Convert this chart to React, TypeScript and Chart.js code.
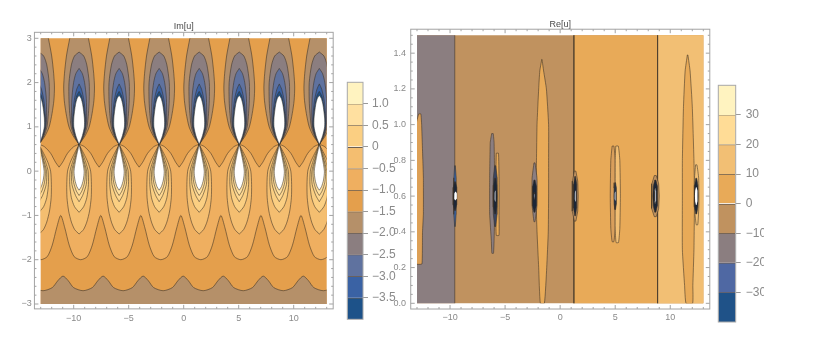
import React, { useEffect, useRef } from "react";
import { Chart, registerables } from "chart.js";

Chart.register(...registerables);

const FONT = "'Liberation Sans', Arial, sans-serif";

// ---- Im[u]: contour level values ----
const POLE_CENTRES = [-13.15, -9.51, -5.87, -2.23, 1.41, 5.05, 8.69, 12.33];
const WAVE_CENTRES = [-13.15, -9.51, -5.87, -2.23, 1.41, 5.05, 8.69, 12.33, 15.97];
// [y, half width] of each closed contour around a pole
const UP_M15 = [[3.2, 0.7], [3, 0.85], [2.6, 1.15], [2.2, 1.33], [1.9, 1.4], [1.6, 1.35], [1.3, 1.18], [1, 0.92], [0.8, 0.55], [0.6, 0]];
const UP_M20 = [[2.69, 0], [2.6, 0.42], [2.4, 0.7], [2, 0.92], [1.6, 0.92], [1.3, 0.85], [1, 0.72], [0.8, 0.45], [0.6, 0]];
const UP_M25 = [[2.32, 0], [2.2, 0.3], [2, 0.5], [1.7, 0.64], [1.4, 0.68], [1.1, 0.66], [0.8, 0.4], [0.6, 0]];
const UP_M30 = [[1.97, 0], [1.85, 0.22], [1.6, 0.44], [1.3, 0.56], [1, 0.6], [0.8, 0.36], [0.6, 0]];
const UP_M35 = [[1.8, 0], [1.7, 0.22], [1.5, 0.38], [1.2, 0.53], [1, 0.54], [0.8, 0.33], [0.6, 0]];
const UP_HOLE = [[1.71, 0], [1.65, 0.17], [1.5, 0.33], [1.2, 0.48], [1, 0.48], [0.8, 0.3], [0.6, 0]];
const LOW_M05 = [[0.6, 0], [0.4, 0.42], [0.2, 0.8], [0, 1.05], [-0.3, 1.12], [-0.6, 1.1], [-0.9, 0.95], [-1.15, 0.7], [-1.32, 0.4], [-1.42, 0]];
const LOW_0 = [[0.6, 0], [0.4, 0.32], [0.2, 0.6], [0, 0.82], [-0.3, 0.85], [-0.6, 0.7], [-0.8, 0.42], [-0.93, 0]];
const LOW_05 = [[0.6, 0], [0.3, 0.36], [0, 0.68], [-0.3, 0.65], [-0.55, 0.32], [-0.69, 0]];
const LOW_10 = [[0.6, 0], [0.3, 0.32], [0, 0.57], [-0.25, 0.5], [-0.45, 0.25], [-0.55, 0]];
const LOW_HOLE = [[0.6, 0], [0.3, 0.27], [0, 0.46], [-0.2, 0.38], [-0.35, 0.2], [-0.43, 0]];
// [offset from pole, y] of the contours that run across the plot
const VEE = [[-1.82, 0.09], [-1.5, 0.2], [-1.06, 0.4], [-0.5, 0.55], [0, 0.6], [0.5, 0.55], [1.06, 0.4], [1.5, 0.2], [1.82, 0.09]];
const WAVE_UPPER = [[-1.67, -1], [-1.3, -1.28], [-0.9, -1.67], [-0.45, -1.93], [0.15, -2], [0.75, -1.93], [1.2, -1.67], [1.6, -1.28]];
const WAVE_LOWER = [[-1.46, -2.37], [-1.0, -2.47], [-0.5, -2.63], [0.36, -2.7], [1.2, -2.63], [1.72, -2.47]];

// ---- Re[u] ----
const RE_BOUNDARY_GREY = -9.57;
const RE_BOUNDARY_ZERO = 1.25;
const RE_BOUNDARY_TEN = 8.85;
// [y, left x, right x]
const S_EDGE = [[1.06, -12.85, -12.65], [1.0, -13.1, -12.58], [0.8, -13.1, -12.47], [0.7, -13.1, -12.42], [0.5, -13.1, -12.42], [0.4, -13.1, -12.5], [0.22, -13.1, -12.55]];
const S_GREY6 = [[0.95, -6.22, -6.08], [0.9, -6.35, -6.0], [0.7, -6.4, -5.95], [0.5, -6.4, -5.95], [0.35, -6.25, -6.0], [0.28, -6.2, -6.05]];
const S_ORANGE6 = [[0.84, -5.8, -5.6], [0.7, -5.85, -5.55], [0.5, -5.85, -5.55], [0.38, -5.8, -5.55]];
const S_ORANGE2 = [[1.365, -1.67, -1.65], [1.3, -1.85, -1.5], [1.2, -1.95, -1.25], [1.0, -2.1, -1.05], [0.8, -2.15, -1.05], [0.6, -2.2, -1.05], [0.4, -2.1, -1.08], [0.2, -1.95, -1.22], [0, -1.8, -1.43]];
const S_GREY2 = [[0.786, -2.38, -2.28], [0.7, -2.55, -2.1], [0.55, -2.55, -2.1], [0.457, -2.38, -2.28]];
const S_TAN5 = [[0.88, 4.72, 4.88], [0.8, 4.6, 5], [0.6, 4.55, 5], [0.42, 4.6, 5], [0.345, 4.72, 4.88]];
const S_LIGHT5 = [[0.88, 5.05, 5.28], [0.8, 5, 5.42], [0.6, 5, 5.47], [0.42, 5, 5.42], [0.34, 5.08, 5.3]];
const S_ORANGE11 = [[1.39, 11.55, 11.6], [1.3, 11.35, 11.8], [1.1, 11.2, 12], [0.8, 11.1, 12.15], [0.6, 11.1, 12.2], [0.3, 11.1, 12.15], [0.1, 11.3, 12.05], [0, 11.43, 12.03]];
const S_LIGHT12 = [[0.775, 12.3, 12.42], [0.7, 12.2, 12.58], [0.55, 12.18, 12.6], [0.44, 12.35, 12.5]];
// [x, half height, half width, colour] of the small shapes round each pole on the 0.6 line
const RE_POLE_LAYERS: [number, number, number, string][] = [
  [-9.55, 0.17, 0.12, "#3B63A3"], [-9.55, 0.08, 0.18, "#1c2636"], [-9.5, 0.025, 0.13, "#ffffff"],
  [-5.9, 0.17, 0.2, "#3a4560"], [-5.9, 0.1, 0.18, "#1c2636"], [-5.9, 0.03, 0.05, "#ffffff"],
  [-2.33, 0.09, 0.2, "#1c2636"], [-2.33, 0.02, 0.05, "#8fa3c8"],
  [1.36, 0.14, 0.28, "#C0925F"], [1.36, 0.11, 0.16, "#1c2636"], [1.38, 0.03, 0.05, "#ffffff"],
  [5.0, 0.075, 0.12, "#26344a"], [5.0, 0.025, 0.05, "#ffffff"],
  [8.64, 0.115, 0.36, "#C0925F"], [8.64, 0.09, 0.22, "#1c2636"], [8.64, 0.045, 0.08, "#c5d3ea"],
  [12.36, 0.1, 0.18, "#1c2636"], [12.36, 0.05, 0.12, "#ffffff"],
];

// ---- colour bars ----
const BAR_L_EDGES = [1.5, 1, 0.5, 0, -0.5, -1, -1.5, -2, -2.5, -3, -3.5, -4];
const BAR_L_COLORS = ["#FFF3C0", "#FFE0A0", "#FBCF82", "#F4BE70", "#EFAF60", "#E49F4C", "#B59069", "#8B7E80", "#5F729F", "#3A62A4", "#1D5289"];
const BAR_R_EDGES = [40, 30, 20, 10, 0, -10, -20, -30, -40];
const BAR_R_COLORS = ["#FFF3C0", "#FFDC96", "#F2BF74", "#E8AA58", "#C0925F", "#8B7E80", "#4F68A3", "#1F5288"];

const LINE = "rgba(58,48,38,0.62)";
const W = 814, H = 339;

type Pt = { x: number; y: number };
const lobe = (c: number, t: number[][]): Pt[] => [
  ...t.map(([y, h]) => ({ x: c - h, y })),
  ...[...t].reverse().map(([y, h]) => ({ x: c + h, y })),
  { x: c - t[0][1], y: t[0][0] },
];
const spindle = (t: number[][]): Pt[] => [
  ...t.map(([y, a]) => ({ x: a, y })),
  ...[...t].reverse().map(([y, , b]) => ({ x: b, y })),
  { x: t[0][1], y: t[0][0] },
];
const rect = (x0: number, x1: number, y0: number, y1: number): Pt[] => [
  { x: x0, y: y0 }, { x: x1, y: y0 }, { x: x1, y: y1 }, { x: x0, y: y1 }, { x: x0, y: y0 },
];
const along = (centres: number[], t: number[][]): Pt[] =>
  centres.flatMap((c) => t.map(([d, y]) => ({ x: c + d, y })));

const shape = (data: Pt[], color: string, line = true, tension = 0.25) => ({
  data, backgroundColor: color, borderColor: line ? LINE : "rgba(0,0,0,0)", borderWidth: line ? 0.9 : 0,
  showLine: true, fill: "shape", pointRadius: 0, tension, capBezierPoints: false,
});
const painter = (list: any[]) => list.map((d, i) => ({ ...d, order: list.length - i }));

const leftDatasets = () => {
  const list: any[] = [];
  list.push(shape(rect(-14, 14, -3.2, 3.2), "#E49F4C", false, 0));
  const lower = along(WAVE_CENTRES, WAVE_LOWER);
  list.push(shape([...lower, { x: 18, y: -3.3 }, { x: -16, y: -3.3 }, lower[0]], "#B59069"));
  const upper = along(WAVE_CENTRES, WAVE_UPPER);
  const vee = along(WAVE_CENTRES, VEE).reverse();
  list.push(shape([...upper, ...vee, upper[0]], "#EFAF60"));
  const levels: [number[][], string][] = [
    [UP_M15, "#B59069"], [UP_M20, "#8B7E80"], [UP_M25, "#5F729F"], [UP_M30, "#3A62A4"], [UP_M35, "#1D5289"], [UP_HOLE, "#ffffff"],
    [LOW_M05, "#F4BE70"], [LOW_0, "#FBCF82"], [LOW_05, "#FFD890"], [LOW_10, "#FFE0A0"], [LOW_HOLE, "#ffffff"],
  ];
  for (const [t, color] of levels) for (const c of POLE_CENTRES) list.push(shape(lobe(c, t), color));
  return painter(list);
};

const rightDatasets = () => {
  const list: any[] = [];
  list.push(shape(rect(-14, 14, -0.1, 1.6), "#C0925F", false, 0));
  list.push(shape(rect(-14, RE_BOUNDARY_GREY, -0.1, 1.6), "#8B7E80", true, 0));
  list.push(shape(rect(RE_BOUNDARY_ZERO, 14, -0.1, 1.6), "#E8AA58", true, 0));
  list.push(shape(rect(RE_BOUNDARY_TEN, 14, -0.1, 1.6), "#F2BF74", true, 0));
  list.push(shape(spindle(S_EDGE), "#DDA056", true, 0.1));
  list.push(shape(spindle(S_GREY6), "#8B7E80", true, 0.1));
  list.push(shape(spindle(S_ORANGE6), "#E8AA58", true, 0.1));
  list.push(shape(spindle(S_ORANGE2), "#E8AA58", true, 0.15));
  list.push(shape(spindle(S_GREY2), "#8B7E80", true, 0.1));
  list.push(shape(spindle(S_TAN5), "#D99F5C", true, 0.15));
  list.push(shape(spindle(S_LIGHT5), "#F2BF74", true, 0.15));
  list.push(shape(spindle(S_ORANGE11), "#E8AA58", true, 0.15));
  list.push(shape(spindle(S_LIGHT12), "#F2BF74", true, 0.15));
  for (const [x, hy, hw, color] of RE_POLE_LAYERS) {
    list.push(shape(spindle([
      [0.6 + hy, x - hw * 0.25, x + hw * 0.25],
      [0.6 + hy * 0.6, x - hw * 0.85, x + hw * 0.85],
      [0.6, x - hw, x + hw],
      [0.6 - hy * 0.6, x - hw * 0.85, x + hw * 0.85],
      [0.6 - hy, x - hw * 0.25, x + hw * 0.25],
    ]), color, color !== "#ffffff", 0));
  }
  return painter(list);
};

const frame = (id: string, xr: number[], yr: number[], xMinor: number[], xMajor: number[], yMinor: number[], yMajor: number[]) => ({
  id,
  afterDraw(chart: any) {
    const { ctx, scales } = chart;
    const X = (v: number) => scales.x.getPixelForValue(v);
    const Y = (v: number) => scales.y.getPixelForValue(v);
    const l = X(xr[0]), r = X(xr[1]), t = Y(yr[1]), b = Y(yr[0]);
    ctx.save();
    ctx.strokeStyle = "#a3a3a3";
    ctx.lineWidth = 1;
    ctx.strokeRect(l, t, r - l, b - t);
    const tick = (a: number, c: number, d: number, e: number) => {
      ctx.beginPath(); ctx.moveTo(a, c); ctx.lineTo(d, e); ctx.stroke();
    };
    for (const [vals, len] of [[xMinor, 2], [xMajor, 4]] as [number[], number][]) {
      for (const v of vals) { tick(X(v), b, X(v), b - len); tick(X(v), t, X(v), t + len); }
    }
    for (const [vals, len] of [[yMinor, 2], [yMajor, 4]] as [number[], number][]) {
      for (const v of vals) { tick(l, Y(v), l + len, Y(v)); tick(r, Y(v), r - len, Y(v)); }
    }
    ctx.restore();
  },
});

const XMINOR = [-13, -12, -11, -9, -8, -7, -6, -4, -3, -2, -1, 1, 2, 3, 4, 6, 7, 8, 9, 11, 12, 13];
const XMAJOR = [-10, -5, 0, 5, 10];
const YL_MINOR = [-2.8, -2.6, -2.4, -2.2, -1.8, -1.6, -1.4, -1.2, -0.8, -0.6, -0.4, -0.2, 0.2, 0.4, 0.6, 0.8, 1.2, 1.4, 1.6, 1.8, 2.2, 2.4, 2.6, 2.8];
const YL_MAJOR = [-3, -2, -1, 0, 1, 2, 3];
const YR_MINOR = [0.05, 0.1, 0.15, 0.25, 0.3, 0.35, 0.45, 0.5, 0.55, 0.65, 0.7, 0.75, 0.85, 0.9, 0.95, 1.05, 1.1, 1.15, 1.25, 1.3, 1.35, 1.45, 1.5];
const YR_MAJOR = [0, 0.2, 0.4, 0.6, 0.8, 1, 1.2, 1.4];

const minus = (s: string) => s.replace("-", "\u2212");

function plotConfig(o: any) {
  return {
    type: "scatter",
    data: { datasets: o.datasets },
    options: {
      animation: false, responsive: false,
      layout: { padding: { left: 0, top: o.top, right: W - o.right, bottom: 0 } },
      plugins: {
        legend: { display: false }, tooltip: { enabled: false },
        title: {
          display: true, text: o.title, fullSize: false, color: "#4a4a4a",
          font: { family: FONT, size: 9, weight: "normal" },
          padding: { top: 0, bottom: o.titleGap },
        },
      },
      scales: {
        x: {
          type: "linear", min: -13, max: 13, grid: { display: false, drawTicks: false }, border: { display: false },
          afterFit: (s: any) => { s.height = H - o.bottom; },
          ticks: {
            stepSize: 5, includeBounds: false, autoSkip: false, maxRotation: 0, color: "#8a8a8a", padding: 9,
            font: { family: FONT, size: 9 }, callback: (v: number) => minus(String(v)),
          },
        },
        y: {
          type: "linear", min: o.ymin, max: o.ymax, grid: { display: false, drawTicks: false }, border: { display: false },
          afterFit: (s: any) => { s.width = o.left; },
          ticks: {
            stepSize: o.ystep, includeBounds: false, autoSkip: false, color: "#8a8a8a", padding: o.ypad,
            font: { family: FONT, size: 9 }, callback: o.yfmt,
          },
        },
      },
    },
    plugins: [frame(o.title, [-13.57, 13.59], o.yframe, XMINOR, XMAJOR, o.yminor, o.ymajor)],
  };
}

function barConfig(o: any) {
  const colors: string[] = o.colors;
  const edges: number[] = o.edges;
  const lo = edges[edges.length - 1], hi = edges[0];
  return {
    type: "bar",
    data: {
      labels: ["legend"],
      datasets: colors.map((c, i) => ({
        data: [[edges[i + 1], edges[i]]], backgroundColor: c, grouped: false,
        barPercentage: 1, categoryPercentage: 1, borderColor: "rgba(70,55,40,0.8)", borderSkipped: false,
        borderWidth: { top: i === 0 ? 0 : 1, bottom: 0, left: 0, right: 0 },
      })),
    },
    options: {
      animation: false, responsive: false,
      layout: { padding: { left: o.left, top: o.top, right: o.width - o.right - o.axis, bottom: H - o.bottom } },
      plugins: { legend: { display: false }, tooltip: { enabled: false } },
      scales: {
        x: { display: false, offset: true },
        y: {
          position: "right", min: lo, max: hi,
          afterFit: (s: any) => { s.width = o.axis; },
          afterBuildTicks: (s: any) => { s.ticks = s.ticks.filter((t: any) => t.value > lo && t.value < hi); },
          border: { display: false },
          grid: { drawOnChartArea: false, drawTicks: true, tickLength: 5, color: "#9a9a9a" },
          ticks: {
            stepSize: o.step, includeBounds: false, autoSkip: false, color: "#8a8a8a", padding: o.pad,
            font: { family: FONT, size: 12 }, callback: o.fmt,
          },
        },
      },
    },
    plugins: [{
      id: "outline",
      afterDraw(chart: any) {
        const { ctx, chartArea: a } = chart;
        ctx.save(); ctx.strokeStyle = "#a8a8a8"; ctx.lineWidth = 1;
        ctx.strokeRect(a.left, a.top, a.right - a.left, a.bottom - a.top);
        ctx.restore();
      },
    }],
  };
}

function Panel({ config, width }: { config: () => any; width: number }) {
  const ref = useRef<HTMLCanvasElement>(null);
  useEffect(() => {
    const chart = new Chart(ref.current as HTMLCanvasElement, config());
    return () => chart.destroy();
  }, []);
  return <canvas ref={ref} width={width} height={H} style={{ position: "absolute", left: 0, top: 0, width, height: H }} />;
}

export default function App() {
  return (
    <div style={{ position: "fixed", left: 0, top: 0, width: W, height: H, background: "#fff", overflow: "hidden" }}>
      <Panel width={W} config={() => plotConfig({
        datasets: leftDatasets(), title: "Im[u]", top: 21, titleGap: 6.5, left: 40.7, right: 326.7, bottom: 304,
        ymin: -3, ymax: 3, ystep: 1, ypad: 9, yfmt: (v: number) => minus(String(v)),
        yframe: [-3.11, 3.135], yminor: YL_MINOR, ymajor: YL_MAJOR,
      })} />
      <Panel width={W} config={() => plotConfig({
        datasets: rightDatasets(), title: "Re[u]", top: 19, titleGap: 5.5, left: 417, right: 703.3, bottom: 303.3,
        ymin: 0, ymax: 1.5, ystep: 0.2, ypad: 11, yfmt: (v: number) => Number(v).toFixed(1),
        yframe: [-0.032, 1.534], yminor: YR_MINOR, ymajor: YR_MAJOR,
      })} />
      <Panel width={W} config={() => barConfig({
        colors: BAR_L_COLORS, edges: BAR_L_EDGES, step: 0.5, width: W, left: 347.3, right: 363, axis: 40, top: 82.3, bottom: 319.3, pad: 4,
        fmt: (v: number) => (Number(v) === 0 ? "0" : minus(Number(v).toFixed(1))),
      })} />
      <Panel width={764} config={() => barConfig({
        colors: BAR_R_COLORS, edges: BAR_R_EDGES, step: 10, width: 764, left: 718.3, right: 735.7, axis: 28.3, top: 85.3, bottom: 322, pad: 5,
        fmt: (v: number) => minus(String(v)),
      })} />
    </div>
  );
}
